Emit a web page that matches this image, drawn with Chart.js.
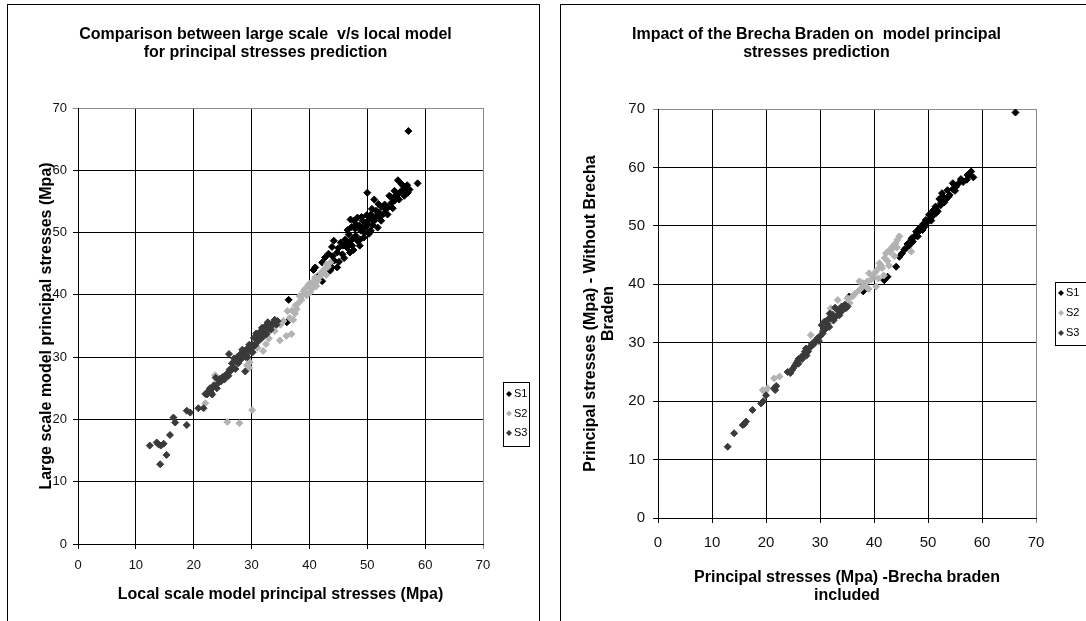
<!DOCTYPE html>
<html>
<head>
<meta charset="utf-8">
<script src="https://cdn.jsdelivr.net/npm/chart.js@4"></script>
<style>
  html, body { margin: 0; padding: 0; background: #fff; overflow: hidden; }
  body { width: 1086px; height: 621px; position: relative; }
  .frame { position: absolute; top: 4px; border: 1px solid #000; height: 640px; }
  #leftFrame { left: 7px; width: 531px; }
  #rightFrame { left: 560px; width: 600px; }
  canvas { position: absolute; left: 0; top: 0; }
</style>
</head>
<body>
<div class="frame" id="leftFrame"><canvas id="left" width="531" height="616"></canvas></div>
<div class="frame" id="rightFrame"><canvas id="right" width="525" height="616"></canvas></div>
<script>
// series names and axis ticks
const seriesNames = ['S1', 'S2', 'S3'];
const seriesColors = ['#000000', '#b3b3b3', '#3a3a3a'];
const axisTicks = [0, 10, 20, 30, 40, 50, 60, 70];

// chart 1 : large scale (y) vs local model (x)
const leftS1 = [
  [57.1,66.3],[58.7,57.9],[50.0,56.4],[55.3,58.4],[56.2,57.5],[57.0,56.4],[56.4,55.9],
  [54.7,56.7],[53.8,55.9],[54.2,54.8],[53.2,53.7],[52.4,54.1],[51.5,53.5],[50.6,52.9],
  [51.2,51.9],[50.0,51.3],[49.2,51.9],[48.3,52.4],[47.7,51.9],[47.1,52.1],[48.9,50.3],
  [48.0,49.5],[46.8,49.7],[46.2,48.9],[45.4,48.4],[44.8,46.8],[45.7,46.5],[46.5,47.6],
  [47.4,47.9],[44.2,48.7],[43.9,47.7],[42.7,46.0],[42.2,45.2],[41.0,44.4],[40.7,44.0],
  [43.6,43.9],[44.8,44.4],[43.9,44.4],[42.2,42.2],[41.5,43.0],[36.4,39.2],[36.1,35.6],
  [51.2,55.3],[52.4,51.9],[51.8,50.8],[50.6,50.3],[49.4,49.2],[48.3,48.7],[53.5,52.9],
  [54.7,55.1],[55.6,56.4],[55.9,57.8],[56.7,57.0],
  [45.0,47.5],[45.8,47.9],[46.3,48.2],[46.9,48.5],[47.5,49.0],[47.9,50.6],[48.6,51.1],
  [49.1,50.8],[49.7,51.6],[50.3,52.0],[50.9,52.6],[51.5,52.6],[52.0,53.2],[52.8,53.0],
  [53.0,54.5],[53.6,54.1],[54.1,55.7],[54.4,53.9],[55.0,56.0],[55.5,55.3],[56.0,56.8],
  [56.9,57.6],[57.3,56.9],[49.5,50.0],[50.3,49.8],[48.7,47.9],[47.0,46.8],[46.0,45.9],
  [45.1,45.3],[44.3,45.5],[43.3,46.6],[44.0,46.2],
  [46.6,50.4],[47.3,50.9],[48.1,51.3],[49.0,52.5],[49.9,52.8],[50.8,53.8],[51.9,54.6],
  [47.6,47.2],[48.8,48.9],[49.8,50.9],[50.9,51.2],[52.1,52.4]
];
const leftS2 = [
  [25.8,19.6],[27.9,19.4],[30.1,21.5],[22.0,22.6],[23.7,27.1],[29.2,28.7],[29.7,29.2],
  [29.6,28.3],[31.0,31.5],[32.0,31.0],[32.5,32.1],[33.0,33.0],[34.9,32.7],[36.0,33.4],
  [36.9,33.7],[35.5,35.8],[37.8,37.7],[36.6,36.3],[37.2,36.0],[38.0,38.6],[38.6,39.2],
  [39.0,40.6],[39.5,39.9],[40.1,40.4],[40.7,42.2],[41.2,41.4],[41.8,42.9],[42.4,43.9],
  [42.9,43.2],[43.6,45.2],[43.2,44.5],[38.3,39.8],[39.8,41.5],[40.5,41.0],[41.0,42.8],
  [37.5,37.0],[36.2,37.4],[35.0,35.2],[34.0,34.2],
  [38.8,40.0],[39.3,41.0],[40.0,41.8],[40.9,41.6],[41.5,42.3],[42.0,43.5],[42.7,44.2],
  [43.0,44.9],[37.0,37.5],[37.6,38.3]
];
const leftS3 = [
  [12.4,15.8],[13.6,16.3],[14.3,15.8],[14.2,12.8],[15.3,14.3],[15.9,17.5],[16.5,20.3],
  [16.8,19.5],[18.8,19.1],[18.8,21.4],[19.4,21.1],[20.8,21.8],[21.7,21.8],[22.0,24.1],
  [13.9,16.0],[14.8,16.1],[22.3,24.0],[22.6,24.6],[23.0,24.3],[23.3,25.1],[23.8,26.7],
  [23.5,25.5],[24.0,25.0],[24.3,25.9],[24.7,26.1],[25.0,26.8],[25.3,26.4],[25.7,27.3],
  [26.0,27.0],[26.1,30.5],[26.4,27.8],[26.8,28.3],[27.0,29.8],[27.2,28.1],[27.5,30.0],
  [27.7,29.0],[28.0,29.5],[28.2,30.6],[28.5,30.0],[28.9,27.7],[28.8,31.0],[29.1,30.4],
  [29.4,31.5],[29.8,31.0],[30.1,32.0],[30.4,33.1],[30.6,31.9],[31.0,32.7],[31.3,33.6],
  [31.6,32.9],[32.0,34.0],[32.3,34.9],[32.6,33.7],[33.0,35.1],[33.3,34.4],[33.7,35.6],
  [34.0,36.0],[34.3,35.2],[32.8,35.6],[31.8,34.7],[30.8,33.8],[30.2,30.8],[29.0,30.0],
  [22.8,25.0],[23.2,24.0],[24.5,26.5],[25.5,27.0],[26.2,28.0],[26.6,29.0],[27.3,29.3],
  [27.9,30.3],[28.4,31.2],[29.3,30.0],[29.6,32.0],[30.0,31.4],[30.9,32.3],[31.4,34.0],
  [32.1,33.4],[32.7,34.5],[33.5,35.0],[33.9,35.4],[34.5,35.8],[31.2,33.0]
];

// chart 2 : without Brecha Braden (y) vs Brecha Braden included (x)
const rightS1 = [
  [66.2,69.4],[58.0,59.3],[58.4,58.3],[57.3,58.7],[57.2,57.9],[56.1,58.0],[55.7,57.3],
  [54.6,56.3],[53.6,56.1],[54.0,55.3],[52.8,55.0],[52.1,54.6],[52.4,53.9],[51.4,53.3],
  [50.9,52.6],[51.5,52.2],[50.2,51.9],[49.6,51.0],[50.6,50.9],[49.1,50.3],[48.4,49.6],
  [49.0,49.3],[47.8,49.0],[47.5,48.2],[46.9,47.6],[46.2,46.9],[45.9,46.2],[47.2,47.3],
  [45.2,45.3],[44.7,44.7],[44.1,43.0],[42.5,41.3],[41.9,40.7],[35.4,37.9],[38.0,38.8],
  [54.6,57.3],[55.2,56.7],[53.3,54.5],[48.1,48.2],[45.6,45.9],
  [46.5,46.6],[47.0,47.9],[47.8,48.3],[48.5,49.2],[49.3,49.8],[49.8,50.6],[50.4,51.2],
  [51.0,51.8],[51.8,52.5],[52.3,53.5],[53.0,54.0],[53.8,55.0],[55.0,56.0],[56.5,57.5],
  [57.6,58.7],[52.6,55.6]
];
const rightS2 = [
  [19.4,21.9],[20.3,22.2],[22.5,24.2],[21.5,23.9],[19.8,21.6],[28.3,31.3],[32.7,35.0],
  [33.3,37.3],[35.1,37.6],[34.0,36.0],[32.0,35.9],[37.3,40.5],[39.1,41.9],[40.4,39.6],
  [41.0,43.6],[42.2,45.3],[43.5,46.5],[44.7,48.2],[46.9,45.6],[36.0,37.9],[34.8,36.7],
  [37.3,39.0],[38.5,39.6],[39.5,40.8],[40.2,42.0],[41.5,42.8],[42.5,44.0],[43.0,45.5],
  [44.0,47.0],[44.3,47.6],[43.8,44.8],[42.8,43.2],[41.8,41.5],[40.8,41.0],[38.0,40.2],
  [36.5,38.4],[35.5,36.8],[31.5,33.2],[30.5,32.0],
  [37.8,39.5],[38.8,40.5],[39.8,41.4],[40.6,42.5],[41.3,43.2],[42.0,44.5],[42.8,45.8],
  [43.3,46.0],[44.2,46.3],[39.0,39.2]
];
const rightS3 = [
  [12.9,12.2],[14.1,14.5],[15.7,15.9],[16.3,16.5],[16.0,16.1],[17.5,18.5],[19.1,19.6],
  [20.0,21.0],[19.5,20.0],[21.5,22.2],[21.9,22.6],[21.7,21.9],[24.0,25.0],[24.5,24.8],
  [25.0,25.6],[25.6,26.5],[25.3,26.0],[26.0,26.4],[26.5,27.5],[27.0,28.0],[27.4,29.0],
  [27.8,28.5],[28.2,29.3],[28.8,29.7],[29.3,30.5],[29.8,30.3],[30.1,31.2],[30.5,31.6],
  [30.3,33.0],[30.8,33.6],[31.2,32.5],[31.7,32.7],[32.0,34.2],[32.5,33.8],[33.0,34.5],
  [33.3,35.6],[33.8,35.2],[34.2,35.6],[34.6,36.5],[35.1,36.2],[32.8,36.0],[31.8,35.0],
  [26.0,27.2],[27.5,27.8],
  [24.8,25.3],[25.9,26.9],[26.7,27.2],[27.2,28.5],[28.0,29.0],[28.5,29.8],[29.0,30.1],
  [29.6,30.8],[30.6,32.0],[31.3,33.3],[31.5,34.0],[32.3,34.8],[33.6,34.7],[34.0,36.2],
  [34.8,35.9]
];

const FONT = "'Liberation Sans', Arial, sans-serif";

// legend with a frame, Excel style (+ nudges the title block sideways)
const boxLegend = {
  id: 'boxLegend',
  afterLayout(chart, args, opts) {
    const t = chart.titleBlock;
    if (t && opts.titleShift) {
      t.left += opts.titleShift;
      t.right += opts.titleShift;
    }
  },
  afterDraw(chart, args, opts) {
    const ctx = chart.ctx;
    ctx.save();
    ctx.strokeStyle = '#000';
    ctx.lineWidth = 1;
    ctx.strokeRect(opts.x + 0.5, opts.y + 0.5, opts.w, opts.h);
    ctx.font = opts.size + 'px ' + FONT;
    ctx.textBaseline = 'middle';
    ctx.textAlign = 'left';
    chart.data.datasets.forEach((ds, i) => {
      const cy = opts.y + opts.first + i * opts.gap;
      ctx.fillStyle = ds.backgroundColor;
      ctx.strokeStyle = ds.backgroundColor;
      Chart.helpers.drawPoint(ctx, {pointStyle: 'rectRot', radius: 3, borderWidth: 0, rotation: 0}, opts.x + 6, cy);
      ctx.fillStyle = '#000';
      ctx.fillText(ds.label, opts.x + 11, cy);
    });
    ctx.restore();
  }
};

function makeSets(list) {
  return list.map((pts, i) => ({
    label: seriesNames[i],
    data: pts.map(p => ({x: p[0], y: p[1]})),
    backgroundColor: seriesColors[i],
    borderColor: seriesColors[i],
    pointStyle: 'rectRot',
    pointRadius: 3.5,
    pointBorderWidth: 1,
    order: 3 - i
  }));
}

function gridColor(c) {
  return c.tick && c.tick.value === 70 ? '#8c8c8c' : '#000';
}

function axis(o) {
  return {
    type: 'linear',
    min: 0, max: 70,
    afterBuildTicks: s => { s.ticks = axisTicks.map(v => ({value: v})); },
    afterFit: s => { if (o.w) s.width = o.w; if (o.h) s.height = o.h; },
    grid: {color: gridColor, lineWidth: 1, tickLength: 5, drawTicks: true},
    border: {color: '#000', width: 1},
    ticks: {color: '#111', padding: o.pad, font: {family: FONT, size: o.tick}},
    title: {
      display: true, text: o.title, color: '#000',
      font: {family: FONT, size: 16, weight: 'bold', lineHeight: 1.125},
      padding: o.tpad
    }
  };
}

function makeChart(id, sets, cfg) {
  return new Chart(document.getElementById(id), {
    type: 'scatter',
    data: {datasets: makeSets(sets)},
    options: {
      responsive: false,
      animation: false,
      events: [],
      layout: {padding: {left: 0, top: 0, bottom: 0, right: cfg.padRight}},
      plugins: {
        legend: {display: false},
        tooltip: {enabled: false},
        title: {
          display: true, text: cfg.title, color: '#000',
          font: {family: FONT, size: 16, weight: 'bold', lineHeight: 1.125},
          padding: {top: 21, bottom: cfg.titleGap}
        },
        boxLegend: cfg.legend
      },
      scales: {
        x: axis(cfg.x),
        y: axis(cfg.y)
      }
    },
    plugins: [boxLegend]
  });
}

makeChart('left', [leftS1, leftS2, leftS3], {
  title: ['Comparison between large scale  v/s local model', 'for principal stresses prediction'],
  titleGap: 46,
  padRight: 56,
  legend: {x: 495, y: 377, w: 26, h: 64, first: 12, gap: 19.5, size: 11, titleShift: 20},
  x: {h: 77, pad: 9, tick: 13, title: 'Local scale model principal stresses (Mpa)', tpad: {top: 0, bottom: 17}},
  y: {w: 70, pad: 6, tick: 13, title: 'Large scale model principal stresses (Mpa)', tpad: {top: 30, bottom: 0}}
});

makeChart('right', [rightS1, rightS2, rightS3], {
  title: ['Impact of the Brecha Braden on  model principal', 'stresses prediction'],
  titleGap: 47,
  padRight: 50,
  legend: {x: 494, y: 277, w: 40, h: 63, first: 11, gap: 20, size: 11, titleShift: 18},
  x: {h: 103, pad: 11, tick: 15, title: ['Principal stresses (Mpa) -Brecha braden', 'included'], tpad: {top: 0, bottom: 16}},
  y: {w: 97, pad: 8, tick: 15, title: ['Principal stresses (Mpa) - Without Brecha', 'Braden'], tpad: {top: 21, bottom: 0}}
});
</script>
</body>
</html>
